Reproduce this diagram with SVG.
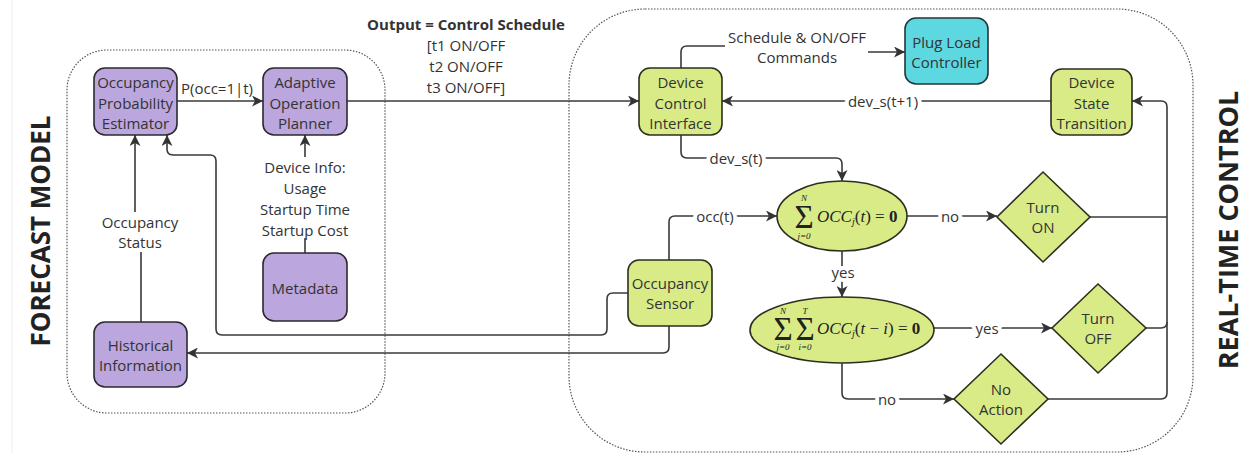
<svg xmlns="http://www.w3.org/2000/svg" width="1248" height="453" viewBox="0 0 1248 453">
<defs>
<marker id="ah" markerUnits="userSpaceOnUse" markerWidth="12" markerHeight="11" refX="11" refY="5.5" orient="auto">
<path d="M0,0 L11,5.5 L0,11 L3,5.5 z" fill="#333"/>
</marker>
<style>
text{font-family:"Open Sans","DejaVu Sans",sans-serif;fill:#333;font-size:15px;text-anchor:middle;dominant-baseline:central}
.lbl{stroke:#fff;stroke-width:8px;paint-order:stroke;stroke-linejoin:round}
.big{font-size:26px;font-weight:bold;fill:#222}
.conn path{fill:none;stroke:#3a3a3a;stroke-width:1.6}
.pur{fill:#bba6dd;stroke:#2c2830;stroke-width:1.6}
.grn{fill:#d9eb86;stroke:#2c2f20;stroke-width:1.6}
.cyn{fill:#5dd8e0;stroke:#23363a;stroke-width:1.6}
.box{fill:none;stroke:#555;stroke-width:1.2;stroke-dasharray:1.5 1.5}
.m{font-family:"Liberation Serif","DejaVu Serif",serif;fill:#222;text-anchor:start;dominant-baseline:auto;font-size:17px}
.ms{font-family:"Liberation Serif","DejaVu Serif",serif;fill:#222;font-style:italic;font-size:9px}
.sig{font-family:"Liberation Serif","DejaVu Serif",serif;fill:#222;font-size:33px;dominant-baseline:auto}
</style>
</defs>
<rect width="1248" height="453" fill="#fff"/>
<line x1="12" y1="0" x2="12" y2="453" stroke="#ececec" stroke-width="1"/>

<g id="forecast-region">
<rect class="box" x="67" y="50" width="318" height="363" rx="40"/>
<text class="big" transform="translate(40,231) rotate(-90)">FORECAST MODEL</text>
</g>
<g id="realtime-region">
<rect class="box" x="569" y="9" width="624" height="443" rx="76"/>
<text class="big" font-size="27" transform="translate(1227,230) rotate(-90)" style="font-size:27px">REAL-TIME CONTROL</text>
</g>

<g class="conn" id="connectors">
<path d="M177,101 H263" marker-end="url(#ah)"/>
<path d="M347,101 H639" marker-end="url(#ah)"/>
<path d="M681,68 V52 Q681,46 687,46 H725 M868,52 H905" marker-end="url(#ah)"/>
<path d="M1051,101 H722" marker-end="url(#ah)"/>
<path d="M681,135 V152 Q681,158 687,158 H836 Q842,158 842,164 V181" marker-end="url(#ah)"/>
<path d="M669,260 V222 Q669,216 675,216 H777" marker-end="url(#ah)"/>
<path d="M842,251 V297" marker-end="url(#ah)"/>
<path d="M907,216 H997" marker-end="url(#ah)"/>
<path d="M934,328 H1052" marker-end="url(#ah)"/>
<path d="M842,363 V393 Q842,399 848,399 H954" marker-end="url(#ah)"/>
<path d="M1048,399 H1161 Q1167,399 1167,393 V107 Q1167,101 1161,101 H1132" marker-end="url(#ah)"/>
<path d="M1090,217 H1167"/>
<path d="M1146,328 H1161 Q1167,328 1167,322"/>
<path d="M628,293 H613 Q607,293 607,299 V329 Q607,335 601,335 H222 Q216,335 216,329 V161 Q216,155 210,155 H173 Q167,155 167,149 V135" marker-end="url(#ah)"/>
<path d="M669,326 V347 Q669,353 663,353 H187" marker-end="url(#ah)"/>
<path d="M141,322 V252 M135,212 V135" marker-end="url(#ah)"/>
<path d="M305,253 V238 M305,157 V135" marker-end="url(#ah)"/>
</g>

<g id="labels">
<text x="217" y="88">P(occ=1|t)</text>
<text x="466" y="24" font-weight="bold" font-size="14">Output = Control Schedule</text>
<text x="466" y="45" font-size="14">[t1 ON/OFF</text>
<text x="466" y="66" font-size="14">t2 ON/OFF</text>
<text x="466" y="87" font-size="14">t3 ON/OFF]</text>
<text x="797" y="37" font-size="14">Schedule &amp; ON/OFF</text>
<text x="797" y="57" font-size="14">Commands</text>
<text class="lbl" x="883" y="101" font-size="14">dev_s(t+1)</text>
<text class="lbl" x="736" y="158" font-size="14">dev_s(t)</text>
<text class="lbl" x="715" y="216" font-size="14">occ(t)</text>
<text class="lbl" x="843" y="272" font-size="14">yes</text>
<text class="lbl" x="950" y="216" font-size="14">no</text>
<text class="lbl" x="987" y="328" font-size="14">yes</text>
<text class="lbl" x="887" y="399" font-size="14">no</text>
<text x="305" y="167">Device Info:</text>
<text x="305" y="188">Usage</text>
<text x="305" y="209">Startup Time</text>
<text x="305" y="230">Startup Cost</text>
<text x="140" y="222">Occupancy</text>
<text x="140" y="242">Status</text>
</g>

<g id="occ-prob-estimator">
<rect class="pur" x="94" y="68" width="83" height="67" rx="11"/>
<text x="135.5" y="82">Occupancy</text><text x="135.5" y="102.5">Probability</text><text x="135.5" y="123">Estimator</text>
</g>
<g id="adaptive-planner">
<rect class="pur" x="263" y="68" width="84" height="67" rx="11"/>
<text x="305" y="82">Adaptive</text><text x="305" y="102.5">Operation</text><text x="305" y="123">Planner</text>
</g>
<g id="metadata">
<rect class="pur" x="263" y="253" width="84" height="68" rx="11"/>
<text x="305" y="288">Metadata</text>
</g>
<g id="historical-info">
<rect class="pur" x="94" y="322" width="93" height="65" rx="11"/>
<text x="140.5" y="345">Historical</text><text x="140.5" y="365">Information</text>
</g>
<g id="device-control-interface">
<rect class="grn" x="639" y="68" width="83" height="67" rx="11"/>
<text x="680.5" y="82">Device</text><text x="680.5" y="102.5">Control</text><text x="680.5" y="123">Interface</text>
</g>
<g id="plug-load-controller">
<rect class="cyn" x="905" y="18" width="83" height="66" rx="11"/>
<text x="946.5" y="42">Plug Load</text><text x="946.5" y="62">Controller</text>
</g>
<g id="device-state-transition">
<rect class="grn" x="1051" y="69" width="81" height="66" rx="11"/>
<text x="1091.5" y="82">Device</text><text x="1091.5" y="103">State</text><text x="1091.5" y="123">Transition</text>
</g>
<g id="occupancy-sensor">
<rect class="grn" x="628" y="260" width="84" height="66" rx="11"/>
<text x="670" y="283">Occupancy</text><text x="670" y="303">Sensor</text>
</g>
<g id="check-current">
<ellipse class="grn" cx="842" cy="216" rx="65" ry="35"/>
<text class="sig" x="804" y="228">Σ</text>
<text class="ms" x="804" y="198">N</text>
<text class="ms" x="804" y="236">j=0</text>
<text class="m" x="817" y="222"><tspan font-style="italic">OCC</tspan><tspan font-style="italic" font-size="10" dy="3">j</tspan><tspan dy="-3">(</tspan><tspan font-style="italic">t</tspan>) = <tspan font-weight="bold">0</tspan></text>
</g>
<g id="check-history">
<ellipse class="grn" cx="842" cy="330" rx="92" ry="33"/>
<text class="sig" x="783" y="340">Σ</text>
<text class="sig" x="805" y="340">Σ</text>
<text class="ms" x="783" y="311">N</text>
<text class="ms" x="805" y="311">T</text>
<text class="ms" x="783" y="347">j=0</text>
<text class="ms" x="805" y="347">i=0</text>
<text class="m" x="817" y="334"><tspan font-style="italic">OCC</tspan><tspan font-style="italic" font-size="10" dy="3">j</tspan><tspan dy="-3">(</tspan><tspan font-style="italic">t</tspan> − <tspan font-style="italic">i</tspan>) = <tspan font-weight="bold">0</tspan></text>
</g>
<g id="turn-on">
<polygon class="grn" points="1043,172 1090,217 1043,262 997,217"/>
<text x="1043" y="207">Turn</text><text x="1043" y="227">ON</text>
</g>
<g id="turn-off">
<polygon class="grn" points="1098,284 1146,328 1098,373 1052,328"/>
<text x="1098" y="318">Turn</text><text x="1098" y="338">OFF</text>
</g>
<g id="no-action">
<polygon class="grn" points="1001,354 1048,399 1001,444 954,399"/>
<text x="1001" y="389">No</text><text x="1001" y="409">Action</text>
</g>
</svg>
